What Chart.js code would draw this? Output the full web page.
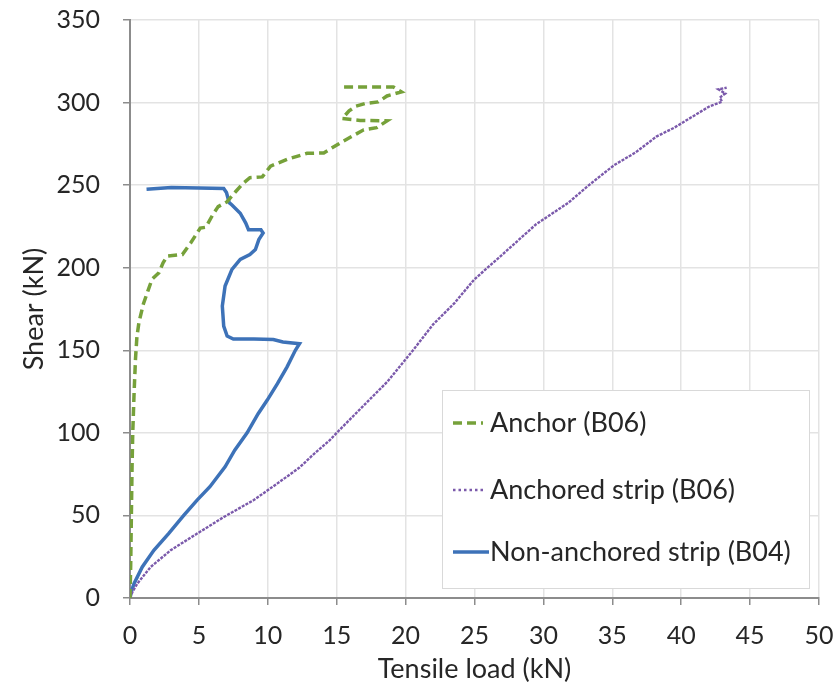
<!DOCTYPE html>
<html>
<head>
<meta charset="utf-8">
<script src="https://cdn.jsdelivr.net/npm/chart.js@4.4.1/dist/chart.umd.min.js"></script>
<style>
  html, body { margin: 0; padding: 0; background: #ffffff; }
  #wrap { width: 839px; height: 693px; position: relative; }
</style>
</head>
<body>
<div id="wrap"><canvas id="chart" width="839" height="693"></canvas></div>
<script>
// Tensile load (kN) vs shear (kN) for each measured component
const anchorB06X = [0, 0.05, 0.1, 0.15, 0.2, 0.3, 0.4, 0.5, 0.65, 0.97, 1.3, 1.6, 2.1, 2.4, 2.7, 3.8, 4.4, 5.1, 5.5, 6.0, 6.4, 7.05, 7.66, 8.2, 8.7, 9.6, 10.2, 11.4, 12.85, 14.06, 15.3, 16.96, 17.9, 18.65, 16.7, 15.4, 15.9, 16.4, 17.1, 18.0, 18.65, 19.7, 19.1, 17.0, 15.2];
const anchorB06Y = [0, 20, 50, 80, 100, 125, 145, 158, 167, 178, 186, 193, 197, 203, 207, 208, 215, 224, 224.5, 232, 237, 240, 246, 251, 254.5, 255, 261.5, 265.6, 269.3, 269.5, 275.8, 283.5, 284.8, 288.9, 289.2, 290.3, 295, 297.8, 299.5, 300.4, 304, 306.5, 309.5, 309.5, 309.5];

const stripB06X = [0, 0.2, 0.53, 1.5, 2.95, 4.87, 6.8, 8.98, 10.7, 12.3, 13.28, 14.5, 15.08, 16.88, 18.68, 20.48, 22.0, 23.56, 24.97, 27.16, 29.47, 31.8, 33.33, 35.13, 36.67, 38.2, 39.5, 40.78, 42.07, 42.97, 42.8, 43.2, 42.7, 43.3];
const stripB06Y = [0, 4, 8.7, 18.8, 28.9, 39, 49, 59.3, 69.4, 79, 86.7, 95.6, 100.7, 115.9, 131, 149.4, 165.7, 178.7, 192.8, 209, 226.3, 239.3, 250.2, 262.1, 269.7, 279.4, 284.8, 291.3, 297.8, 300.5, 303, 305.5, 308, 309];

const stripB04X = [0, 0.1, 0.29, 0.89, 1.73, 2.8, 3.9, 4.87, 5.8, 6.9, 7.6, 8.5, 9.3, 9.95, 10.7, 11.4, 12.0, 12.3, 11.1, 10.4, 9.0, 7.5, 7.05, 6.8, 6.7, 6.9, 7.4, 8.0, 8.7, 9.1, 9.35, 9.66, 9.5, 8.6, 8.4, 8.0, 7.4, 7.2, 7.0, 6.8, 5.0, 3.0, 1.2];
const stripB04Y = [0, 4, 8.7, 18.8, 28.9, 39, 50, 59.3, 67.4, 79.4, 89.5, 100, 111.6, 119.7, 129.8, 140, 150, 154, 155, 156.5, 156.8, 156.8, 158.6, 164.6, 176.8, 188.9, 199, 205, 208, 211, 217, 221, 223, 223, 227, 233, 238, 239.4, 245.5, 248, 248.3, 248.5, 247.5];

const seriesLabels = ['Anchor (B06)', 'Anchored strip (B06)', 'Non-anchored strip (B04)'];
const xTicks = [0, 5, 10, 15, 20, 25, 30, 35, 40, 45, 50];
const yTicks = [0, 50, 100, 150, 200, 250, 300, 350];

const pts = (xs, ys) => xs.map((x, i) => ({ x: x, y: ys[i] }));

const FONT = 'Lato, Carlito, "Open Sans", sans-serif';
const TEXT = '#262626';
const TICK_SIZE = 25;
const TITLE_SIZE = 27;

// Boxed legend inside the plot, drawn from the datasets' own styles
const boxLegend = {
  id: 'boxLegend',
  afterDraw(chart) {
    const ctx = chart.ctx;
    const x0 = 442, y0 = 390, w = 367, h = 198;
    ctx.save();
    ctx.fillStyle = '#ffffff';
    ctx.fillRect(x0, y0, w, h);
    ctx.strokeStyle = '#d9d9d9';
    ctx.lineWidth = 1;
    ctx.strokeRect(x0 + 0.5, y0 + 0.5, w, h);
    const rows = [423, 490, 552];
    chart.data.datasets.forEach((ds, i) => {
      const y = rows[i];
      ctx.strokeStyle = ds.borderColor;
      ctx.lineWidth = ds.borderWidth;
      ctx.setLineDash(ds.legendDash || ds.borderDash || []);
      ctx.beginPath();
      ctx.moveTo(453, y);
      ctx.lineTo(i === 2 ? 489 : 483, y);
      ctx.stroke();
      ctx.setLineDash([]);
      ctx.fillStyle = TEXT;
      ctx.font = TITLE_SIZE + 'px ' + FONT;
      ctx.textBaseline = 'middle';
      ctx.textAlign = 'left';
      ctx.fillText(ds.label, 490, y);
    });
    ctx.restore();
  }
};

new Chart(document.getElementById('chart'), {
  type: 'scatter',
  data: {
    datasets: [
      {
        label: seriesLabels[0],
        data: pts(anchorB06X, anchorB06Y),
        showLine: true,
        borderColor: '#76a13a',
        borderWidth: 3.5,
        borderDash: [9, 5],
        pointRadius: 0,
        tension: 0
      },
      {
        label: seriesLabels[1],
        data: pts(stripB06X, stripB06Y),
        showLine: true,
        borderColor: '#7b5aab',
        borderWidth: 2.4,
        borderDash: [3, 1.2],
        legendDash: [2.5, 3],
        pointRadius: 0,
        tension: 0
      },
      {
        label: seriesLabels[2],
        data: pts(stripB04X, stripB04Y),
        showLine: true,
        borderColor: '#3d72b8',
        borderWidth: 3.5,
        pointRadius: 0,
        tension: 0
      }
    ]
  },
  options: {
    responsive: false,
    animation: false,
    layout: { padding: { left: 0, top: 20, right: 20, bottom: 0 } },
    plugins: {
      legend: { display: false },
      tooltip: { enabled: false }
    },
    scales: {
      x: {
        type: 'linear',
        min: 0,
        max: 50,
        afterBuildTicks: s => { s.ticks = xTicks.map(v => ({ value: v })); },
        afterFit: s => { s.height = 95; s.paddingLeft = 0; s.paddingRight = 0; },
        grid: { color: '#e3e3e3', lineWidth: 1.5, tickColor: '#8c8c8c', tickLength: 7 },
        border: { color: '#8c8c8c', width: 2 },
        ticks: { color: TEXT, font: { family: FONT, size: TICK_SIZE }, padding: 16, maxRotation: 0 },
        title: { display: true, text: 'Tensile load (kN)', color: TEXT, font: { family: FONT, size: TITLE_SIZE }, padding: { top: 0, bottom: 8 } }
      },
      y: {
        type: 'linear',
        min: 0,
        max: 350,
        afterBuildTicks: s => { s.ticks = yTicks.map(v => ({ value: v })); },
        afterFit: s => { s.width = 130; s.paddingTop = 0; s.paddingBottom = 0; },
        grid: { color: '#e3e3e3', lineWidth: 1.5, tickColor: '#8c8c8c', tickLength: 7 },
        border: { color: '#8c8c8c', width: 2 },
        ticks: { color: TEXT, font: { family: FONT, size: TICK_SIZE }, padding: 23 },
        title: { display: true, text: 'Shear (kN)', color: TEXT, font: { family: FONT, size: TITLE_SIZE }, padding: { top: 18, bottom: 0 } }
      }
    }
  },
  plugins: [boxLegend]
});
</script>
</body>
</html>
